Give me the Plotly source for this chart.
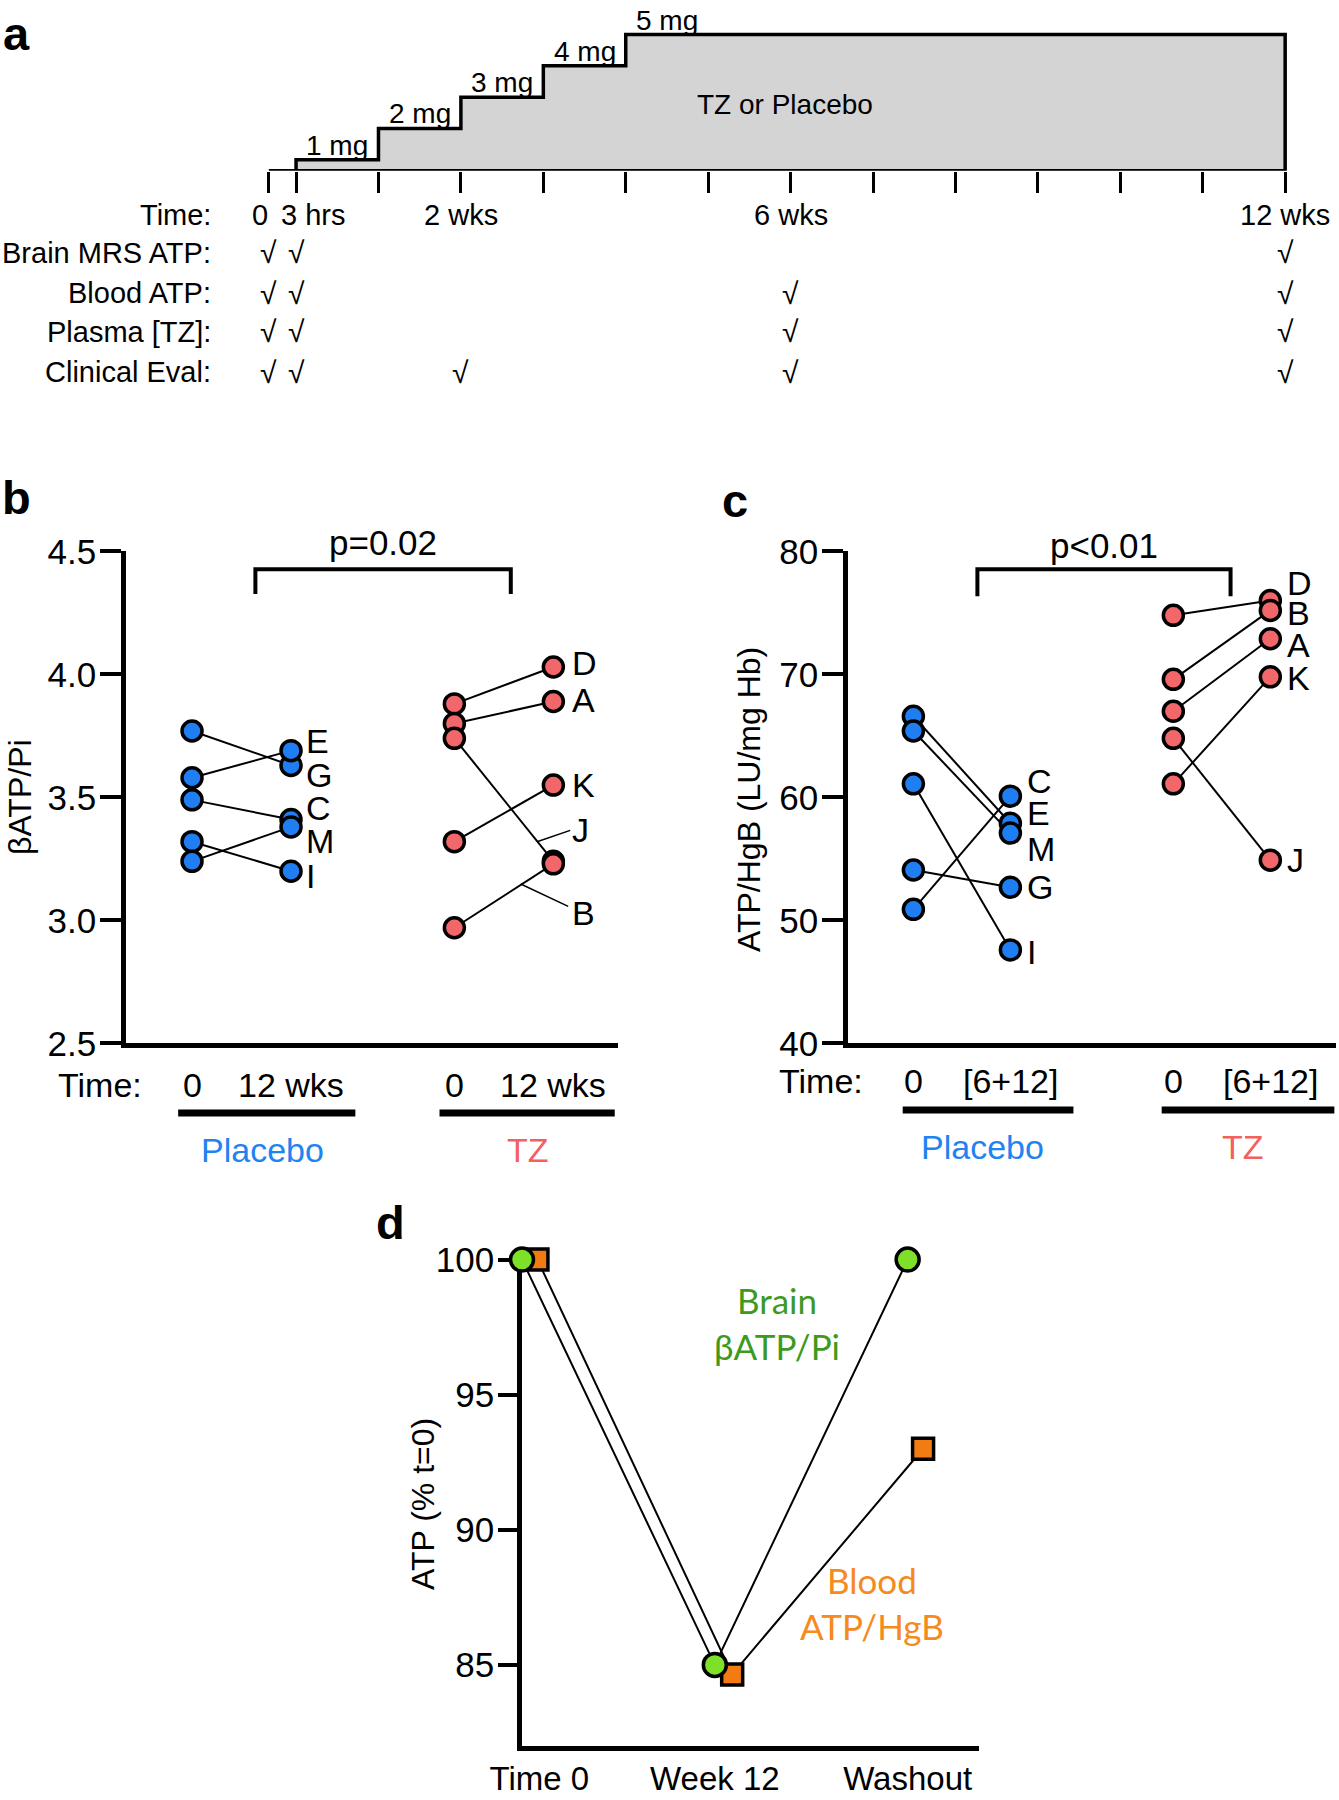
import plotly.graph_objects as go

# ---------------- DATA ----------------
# panel a: dose escalation schedule (weeks)
dose_mg = [1, 2, 3, 4, 5]
dose_start_wk = [0, 1, 2, 3, 4]
dose_end_wk = [1, 2, 3, 4, 12]
time_ticks = [-0.33, 0, 1, 2, 3, 4, 5, 6, 7, 8, 9, 10, 11, 12]
time_labels = ["0", "3 hrs", "2 wks", "6 wks", "12 wks"]
time_label_pos = [-0.44, 0.21, 2, 6, 12]
row_names = ["Brain MRS ATP:", "Blood ATP:", "Plasma [TZ]:", "Clinical Eval:"]
row_checks = [
    [-0.33, 0, 12],
    [-0.33, 0, 6, 12],
    [-0.33, 0, 6, 12],
    [-0.33, 0, 2, 6, 12],
]

# panel b: brain bATP/Pi
b_pl_ids = ["G", "E", "C", "I", "M"]
b_pl_0 = [3.77, 3.58, 3.49, 3.32, 3.24]
b_pl_12 = [3.63, 3.69, 3.41, 3.20, 3.38]
b_pl_lab_y = [3.59, 3.73, 3.456, 3.18, 3.324]
b_tz_ids = ["D", "A", "J", "K", "B"]
b_tz_0 = [3.88, 3.80, 3.74, 3.32, 2.97]
b_tz_12 = [4.03, 3.89, 3.24, 3.55, 3.23]
b_tz_lab_y = [4.046, 3.897, 3.366, 3.55, 3.03]
b_ticks = [2.5, 3.0, 3.5, 4.0, 4.5]

# panel c: blood ATP/HgB
c_pl_ids = ["E", "M", "I", "G", "C"]
c_pl_0 = [66.6, 65.4, 61.1, 54.1, 50.9]
c_pl_12 = [57.9, 57.1, 47.6, 52.7, 60.1]
c_pl_lab_y = [58.7, 55.8, 47.4, 52.7, 61.3]
c_tz_ids = ["D", "B", "A", "J", "K"]
c_tz_0 = [74.8, 69.6, 67.0, 64.8, 61.1]
c_tz_12 = [76.0, 75.2, 72.9, 54.9, 69.8]
c_tz_lab_y = [77.45, 75.0, 72.4, 54.9, 69.7]
c_ticks = [40, 50, 60, 70, 80]

# panel d: % of t=0
d_categories = ["Time 0", "Week 12", "Washout"]
d_cat_pos = [0.09, 1.0, 2.0]
d_brain_x = [0, 1, 2]
d_blood_x = [0.08, 1.09, 2.08]
d_brain = [100, 85, 100]
d_blood = [100, 84.65, 93.0]
d_ticks = [85, 90, 95, 100]

# ---------------- STYLE ----------------
W, H = 1339, 1800
FONT = "Liberation Sans, Arial, Helvetica, sans-serif"
BLUE = "#1f7ff2"
RED = "#f2676a"
BLUE_TXT = "#2283f0"
RED_TXT = "#f2605f"
GREEN_FILL = "#7fe02a"
ORANGE_FILL = "#f27c12"
GREEN_TXT = "#3d9a1e"
ORANGE_TXT = "#f58a1e"


def px(x):
    return x / W


def py(y):
    return 1 - y / H


fig = go.Figure()
ann = []
shapes = []


def A(**kw):
    d = dict(showarrow=False, xanchor="center", yanchor="middle")
    d.update(kw)
    ann.append(d)


def F(size, color="black", family=FONT):
    return dict(family=family, size=size, color=color)


# ---------------- PANEL A ----------------
dose_base = 0.65
poly_x, poly_y = [time_ticks[0], dose_start_wk[0]], [dose_base, dose_base]
for s, e, d in zip(dose_start_wk, dose_end_wk, dose_mg):
    poly_x += [s, e]
    poly_y += [d, d]
poly_x.append(dose_end_wk[-1])
poly_y.append(dose_base)
poly_x.append(time_ticks[0])
poly_y.append(dose_base)
fig.add_trace(go.Scatter(x=poly_x, y=poly_y, mode="lines", fill="toself",
                         fillcolor="#d4d4d4", line=dict(color="black", width=3.5),
                         xaxis="x", yaxis="y", hoverinfo="skip", cliponaxis=False))
for s, e, d in zip(dose_start_wk, dose_end_wk, dose_mg):
    A(x=s + 0.5, y=d, xref="x", yref="y", text=f"{d} mg", yanchor="bottom", yshift=-3,
      font=F(28))
A(x=5.93, y=2.75, xref="x", yref="y", text="TZ or Placebo", font=F(28))

row_y = [253, 293, 332, 372]
A(x=px(213), y=py(215), xref="paper", yref="paper", text="Time:", xanchor="right", font=F(29))
for t, p in zip(time_labels, time_label_pos):
    A(x=p, y=py(215), xref="x", yref="paper", text=t, font=F(29))
for name, yy, checks in zip(row_names, row_y, row_checks):
    A(x=px(213), y=py(yy), xref="paper", yref="paper", text=name, xanchor="right", font=F(29))
    for c in checks:
        A(x=c, y=py(yy), xref="x", yref="paper", text="√", font=F(30))


# ---------------- PANEL B / C helpers ----------------
def paired(xa, ya, x0, x1, v0, v1, color):
    for a, b in zip(v0, v1):
        fig.add_trace(go.Scatter(x=[x0, x1], y=[a, b], mode="lines",
                                 line=dict(color="black", width=2),
                                 xaxis=xa, yaxis=ya, hoverinfo="skip", cliponaxis=False))
    fig.add_trace(go.Scatter(x=[x0] * len(v0) + [x1] * len(v1), y=list(v0) + list(v1),
                             mode="markers",
                             marker=dict(size=20, color=color, line=dict(color="black", width=3.5)),
                             xaxis=xa, yaxis=ya, hoverinfo="skip", cliponaxis=False))


def labels(xa, ya, x, ids, ys):
    for i, yv in zip(ids, ys):
        A(x=x, y=yv, xref=xa, yref=ya, text=i, xanchor="left", font=F(34))


def bracket(xa, ya, x1, x2, ytop, ybot, text, ytext_px):
    shapes.append(dict(type="path", xref=xa, yref=ya,
                       path=f"M {x1},{ybot} L {x1},{ytop} L {x2},{ytop} L {x2},{ybot}",
                       line=dict(color="black", width=4)))
    A(x=(x1 + x2) / 2, y=py(ytext_px), xref=xa, yref="paper", text=text, font=F(35))


def bottom(xa, time_x, xs, t0, t1, ul, grp_x, ty, uly, gy):
    A(x=px(time_x), y=py(ty), xref="paper", yref="paper", text="Time:", font=F(34))
    for (a, b) in xs:
        A(x=a, y=py(ty), xref=xa, yref="paper", text=t0, font=F(34))
        A(x=b, y=py(ty), xref=xa, yref="paper", text=t1, font=F(34))
    for (u0, u1) in ul:
        shapes.append(dict(type="line", xref=xa, yref="paper", x0=u0, x1=u1,
                           y0=py(uly), y1=py(uly), line=dict(color="black", width=7)))
    for gx, gname, gc in zip(grp_x, ["Placebo", "TZ"], [BLUE_TXT, RED_TXT]):
        A(x=gx, y=py(gy), xref=xa, yref="paper", text=gname, font=F(34, gc))


# ---------------- PANEL B ----------------
bx = [1, 2, 3.65, 4.65]
paired("x2", "y2", bx[0], bx[1], b_pl_0, b_pl_12, BLUE)
paired("x2", "y2", bx[2], bx[3], b_tz_0, b_tz_12, RED)
labels("x2", "y2", bx[1] + 0.13, b_pl_ids, b_pl_lab_y)
labels("x2", "y2", bx[3] + 0.17, b_tz_ids, b_tz_lab_y)
shapes.append(dict(type="line", xref="x2", yref="y2", x0=4.485, y0=3.32, x1=4.82, y1=3.366,
                   line=dict(color="black", width=1.5)))
shapes.append(dict(type="line", xref="x2", yref="y2", x0=4.32, y0=3.148, x1=4.80, y1=3.057,
                   line=dict(color="black", width=1.5)))
bracket("x2", "y2", 1.64, 4.22, 4.427, 4.327, "p=0.02", 542)
bottom("x2", 100, [(bx[0], bx[1]), (bx[2], bx[3])], "0", "12 wks",
       [(0.86, 2.65), (3.5, 5.27)], [1.71, 4.39], 1085, 1113, 1150)
A(x=px(20), y=py(797), xref="paper", yref="paper", text="βATP/Pi", textangle=-90, font=F(32))

# ---------------- PANEL C ----------------
cx = [1, 2, 3.68, 4.68]
paired("x3", "y3", cx[0], cx[1], c_pl_0, c_pl_12, BLUE)
paired("x3", "y3", cx[2], cx[3], c_tz_0, c_tz_12, RED)
labels("x3", "y3", cx[1] + 0.15, c_pl_ids, c_pl_lab_y)
labels("x3", "y3", cx[3] + 0.15, c_tz_ids, c_tz_lab_y)
bracket("x3", "y3", 1.66, 4.27, 78.54, 76.36, "p<0.01", 545)
bottom("x3", 821, [(cx[0], cx[1]), (cx[2], cx[3])], "0", "[6+12]",
       [(0.89, 2.65), (3.56, 5.34)], [1.71, 4.40], 1081, 1110, 1147)
A(x=px(749), y=py(800), xref="paper", yref="paper", text="ATP/HgB (LU/mg Hb)",
  textangle=-90, font=F(32))

# ---------------- PANEL D ----------------
fig.add_trace(go.Scatter(x=d_brain_x, y=d_brain, mode="lines", line=dict(color="black", width=2),
                         xaxis="x4", yaxis="y4", hoverinfo="skip", cliponaxis=False))
fig.add_trace(go.Scatter(x=d_blood_x, y=d_blood, mode="lines", line=dict(color="black", width=2),
                         xaxis="x4", yaxis="y4", hoverinfo="skip", cliponaxis=False))
fig.add_trace(go.Scatter(x=d_blood_x, y=d_blood, mode="markers",
                         marker=dict(symbol="square", size=21, color=ORANGE_FILL,
                                     line=dict(color="black", width=3.5)),
                         xaxis="x4", yaxis="y4", hoverinfo="skip", cliponaxis=False))
fig.add_trace(go.Scatter(x=d_brain_x, y=d_brain, mode="markers",
                         marker=dict(symbol="circle", size=23, color=GREEN_FILL,
                                     line=dict(color="black", width=3.5)),
                         xaxis="x4", yaxis="y4", hoverinfo="skip", cliponaxis=False))
LATO = "Lato, Open Sans, sans-serif"
A(x=px(777), y=py(1323), xref="paper", yref="paper", text="Brain<br>βATP/Pi",
  font=F(35, GREEN_TXT, LATO))
A(x=px(872), y=py(1603), xref="paper", yref="paper", text="Blood<br>ATP/HgB",
  font=F(35, ORANGE_TXT, LATO))
A(x=px(423), y=py(1504), xref="paper", yref="paper", text="ATP (% t=0)", textangle=-90,
  font=F(32))

# panel letters
for t, x, y in [("a", 16, 34), ("b", 16, 498), ("c", 735, 500), ("d", 390, 1222)]:
    A(x=px(x), y=py(y), xref="paper", yref="paper", text=f"<b>{t}</b>", font=F(47))

# ---------------- AXES ----------------
tickfont = F(35)
axbase = dict(showgrid=False, zeroline=False, linecolor="black", automargin=False)

fig.update_layout(
    width=W, height=H, margin=dict(l=0, r=0, t=0, b=0, autoexpand=False),
    plot_bgcolor="white", paper_bgcolor="white", showlegend=False,
    annotations=ann, shapes=shapes,
    xaxis=dict(**axbase, domain=[px(240), px(1300)], range=[-0.68, 12.18], showline=False,
               ticks="outside", ticklen=21, tickwidth=3, tickcolor="black",
               tickvals=time_ticks, showticklabels=False, anchor="y"),
    yaxis=dict(**axbase, domain=[py(170.7), 1], range=[dose_base, dose_base + 170.7 / 31.3],
               visible=False, anchor="x"),
    xaxis2=dict(**axbase, domain=[px(126), px(618)], range=[0.333, 5.303], showline=True,
                linewidth=4.5, showticklabels=False, ticks="", anchor="y2"),
    yaxis2=dict(**axbase, domain=[py(1043.4), py(551.4)], range=[2.5, 4.5], showline=True,
                linewidth=4.5, ticks="outside", ticklen=21, tickwidth=4, tickcolor="black",
                tickvals=b_ticks, tickformat=".1f", tickfont=tickfont, anchor="x2",
                ticklabelstandoff=-3),
    xaxis3=dict(**axbase, domain=[px(848), px(1336)], range=[0.326, 5.357], showline=True,
                linewidth=4.5, showticklabels=False, ticks="", anchor="y3"),
    yaxis3=dict(**axbase, domain=[py(1043.4), py(551.4)], range=[40, 80], showline=True,
                linewidth=4.5, ticks="outside", ticklen=21, tickwidth=4, tickcolor="black",
                tickvals=c_ticks, tickfont=tickfont, anchor="x3", ticklabelstandoff=-3),
    xaxis4=dict(**axbase, domain=[px(522), px(979)], range=[0, 2.37], showline=True,
                linewidth=4.5, ticks="", tickvals=d_cat_pos, ticktext=d_categories,
                tickfont=F(33), ticklabelstandoff=0,
                anchor="y4", layer="below traces"),
    yaxis4=dict(**axbase, domain=[py(1746), py(1259.6)], range=[82, 100], showline=True,
                linewidth=4.5, ticks="outside", ticklen=19, tickwidth=4, tickcolor="black",
                tickvals=d_ticks, tickfont=tickfont, anchor="x4", layer="below traces",
                ticklabelstandoff=-3),
)

fig.write_html("out.html", config={"displayModeBar": False},
               post_script="document.body.style.margin='0';document.body.style.overflow='hidden';")
